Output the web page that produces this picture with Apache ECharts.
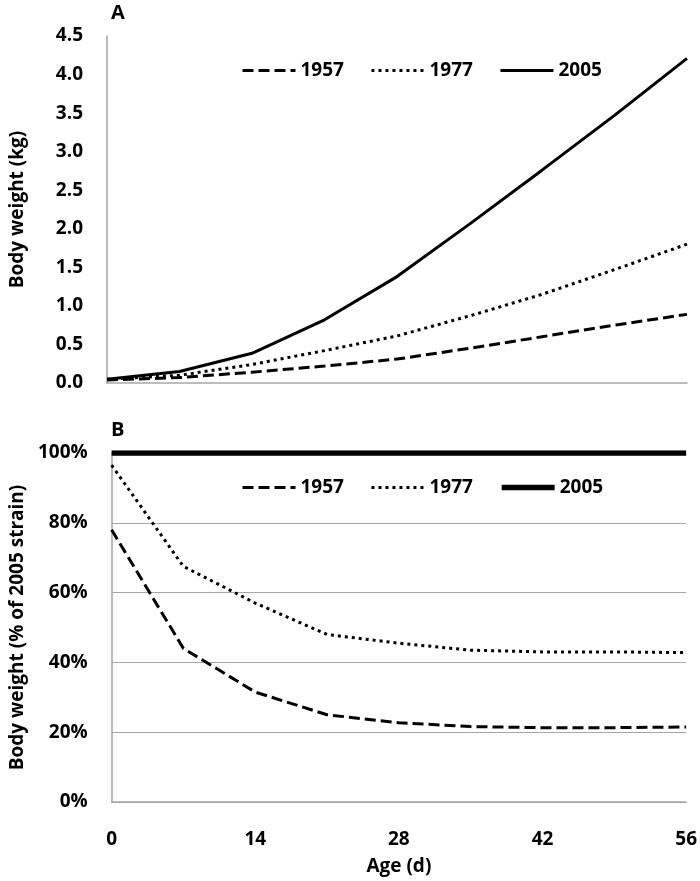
<!DOCTYPE html>
<html>
<head>
<meta charset="utf-8">
<script src="https://cdn.jsdelivr.net/npm/echarts@6/dist/echarts.min.js"></script>
<style>html,body{margin:0;padding:0;background:#fff;}#c{width:700px;height:881px;}</style>
</head>
<body>
<div id="c"></div>
<script>
const days = [0, 7, 14, 21, 28, 35, 42, 49, 56];
const seriesNames = ['1957', '1977', '2005'];
const bw1957 = [0.04, 0.07, 0.14, 0.22, 0.31, 0.45, 0.60, 0.75, 0.89];
const bw1977 = [0.05, 0.10, 0.24, 0.42, 0.61, 0.87, 1.15, 1.47, 1.80];
const bw2005 = [0.05, 0.15, 0.385, 0.82, 1.38, 2.06, 2.76, 3.47, 4.21];
const pct1957 = [78, 44, 31.5, 25, 22.7, 21.6, 21.3, 21.3, 21.5];
const pct1977 = [96.5, 67.5, 57, 48, 45.5, 43.5, 43, 43, 42.8];
const pct2005 = [100, 100, 100, 100, 100, 100, 100, 100, 100];
const xTicks = [0, 14, 28, 42, 56];

const FONT = '"Open Sans"';
const pair = arr => days.map((d, i) => [d, arr[i]]);
const styles = [
  { type: [11, 5], width: 3 },
  { type: [3, 4], width: 3 },
  { type: 'solid', width: 3 }
];

function mkSeries(name, arr, idx, styleIdx, width) {
  const st = styles[styleIdx];
  return {
    name: name, type: 'line', xAxisIndex: idx, yAxisIndex: idx,
    data: pair(arr), symbol: 'none', showSymbol: false, smooth: false,
    lineStyle: { color: '#000', width: width || st.width, type: st.type, cap: 'butt' },
    itemStyle: { color: '#000' },
    z: 3
  };
}

const axisLineStyle = { color: '#a6a6a6', width: 1.5 };
const labelStyle = { color: '#000', fontFamily: FONT, fontWeight: 'bold', fontSize: 19 };

const legendCommon = {
  icon: 'inherit',
  itemWidth: 53, itemHeight: 14, itemGap: 26, itemStyle: { opacity: 0 },
  selectedMode: false, padding: 0,
  textStyle: Object.assign({}, labelStyle, { padding: [0, 0, 0, 0] })
};

const chart = echarts.init(document.getElementById('c'), null, { renderer: 'canvas' });
chart.setOption({
  animation: false,
  backgroundColor: '#fff',
  title: [
    { text: 'A', left: 106, top: -2, textStyle: { fontFamily: FONT, fontWeight: 'bold', fontSize: 20, color: '#000' } },
    { text: 'B', left: 106, top: 415, textStyle: { fontFamily: FONT, fontWeight: 'bold', fontSize: 20, color: '#000' } }
  ],
  legend: [
    Object.assign({}, legendCommon, {
      data: [
        { name: '1957', lineStyle: { width: 3 } },
        { name: '1977', lineStyle: { width: 3 } },
        { name: '2005', lineStyle: { width: 3 } }
      ],
      left: 241, top: 61
    }),
    Object.assign({}, legendCommon, {
      data: [
        { name: '1957', lineStyle: { width: 3 } },
        { name: '1977', lineStyle: { width: 3 } },
        { name: '2005', lineStyle: { width: 5.5 } }
      ],
      left: 241, top: 478
    })
  ],
  grid: [
    { left: 107, right: 13, top: 36, height: 347 },
    { left: 107, right: 13, top: 453, height: 349 }
  ],
  xAxis: [
    {
      gridIndex: 0, type: 'value', min: 0, max: 56, interval: 14,
      axisLine: { lineStyle: axisLineStyle }, axisTick: { show: false },
      axisLabel: { show: false }, splitLine: { show: false }
    },
    {
      gridIndex: 1, type: 'value', min: 0, max: 56, interval: 14,
      axisLine: { lineStyle: axisLineStyle }, axisTick: { show: false },
      axisLabel: Object.assign({ margin: 28, formatter: v => xTicks.includes(v) ? String(v) : '' }, labelStyle),
      splitLine: { show: false },
      name: 'Age (d)', nameLocation: 'middle', nameGap: 55,
      nameTextStyle: labelStyle
    }
  ],
  yAxis: [
    {
      gridIndex: 0, type: 'value', min: 0, max: 4.5, interval: 0.5,
      axisLine: { show: true, lineStyle: axisLineStyle }, axisTick: { show: false },
      axisLabel: Object.assign({ margin: 24, formatter: v => v.toFixed(1) }, labelStyle),
      splitLine: { show: false },
      name: 'Body weight (kg)', nameLocation: 'middle', nameGap: 80,
      nameTextStyle: labelStyle
    },
    {
      gridIndex: 1, type: 'value', min: 0, max: 100, interval: 20,
      axisLine: { show: true, lineStyle: axisLineStyle }, axisTick: { show: false },
      axisLabel: Object.assign({ margin: 24, formatter: v => v + '%' }, labelStyle),
      splitLine: { show: true, lineStyle: { color: '#a6a6a6', width: 1.2 } },
      name: 'Body weight (% of 2005 strain)', nameLocation: 'middle', nameGap: 84,
      nameTextStyle: labelStyle
    }
  ],
  series: [
    mkSeries('1957', bw1957, 0, 0),
    mkSeries('1977', bw1977, 0, 1),
    mkSeries('2005', bw2005, 0, 2),
    mkSeries('1957', pct1957, 1, 0),
    mkSeries('1977', pct1977, 1, 1),
    mkSeries('2005', pct2005, 1, 2, 5.5)
  ]
});
</script>
</body>
</html>
